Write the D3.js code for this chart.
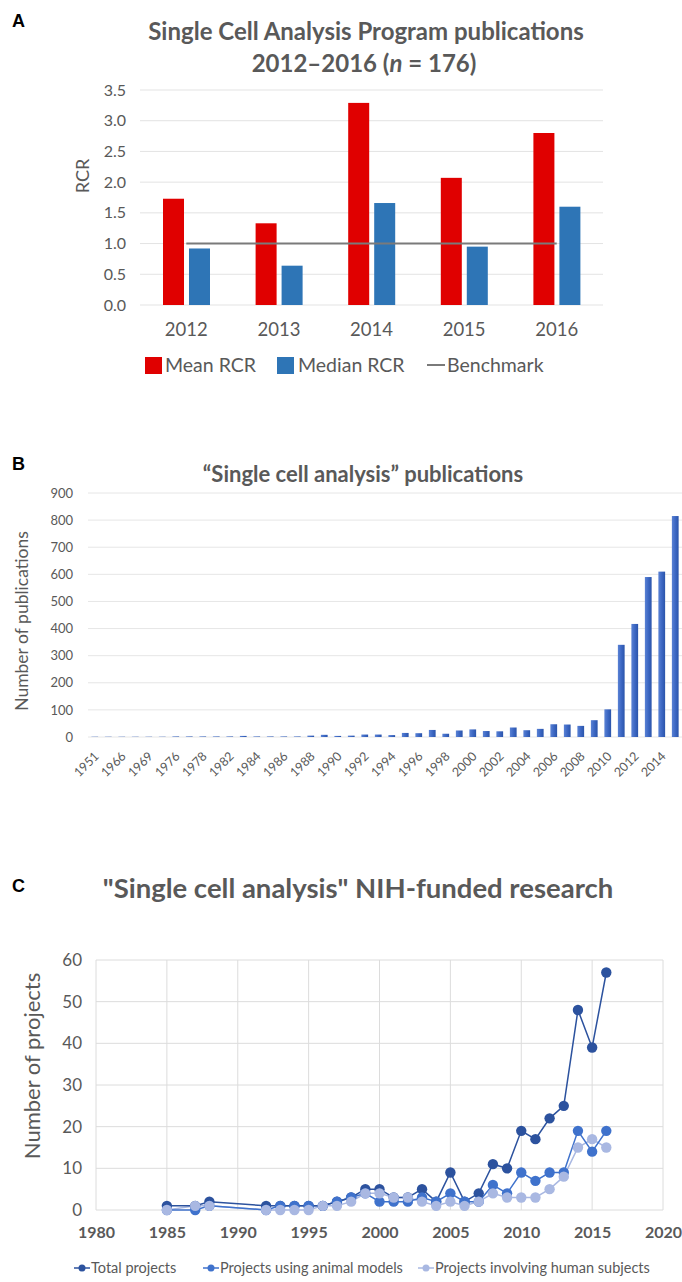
<!DOCTYPE html>
<html><head><meta charset="utf-8">
<script src="https://cdn.jsdelivr.net/npm/d3@7"></script>
<style>
body{margin:0;background:#fff;}
svg{display:block;font-family:Lato,"Open Sans",sans-serif;}
</style></head>
<body>
<svg id="c" width="682" height="1282"></svg>
<script>
// ---------- Panel A data ----------
const rcrYears = ["2012","2013","2014","2015","2016"];
const meanRCR = [1.73,1.33,3.29,2.07,2.80];
const medianRCR = [0.92,0.64,1.66,0.95,1.60];
const benchmark = [1,1,1,1,1];
const rcrTicks = [0,0.5,1,1.5,2,2.5,3,3.5];

// ---------- Panel B data ----------
const pubYears = ["1951","1963","1966","1967","1969","1973","1976","1977","1978","1980","1982","1983",
 "1984","1985","1986","1987","1988","1989","1990","1991","1992","1993","1994","1995","1996","1997",
 "1998","1999","2000","2001","2002","2003","2004","2005","2006","2007","2008","2009","2010","2011",
 "2012","2013","2014","2015"];
const pubCounts = [1,1,1,1,1,1,2,2,2,2,2,4,
 2,2,2,2,5,8,4,5,9,9,7,15,14,26,
 12,24,28,22,21,35,25,30,47,46,41,62,102,340,
 417,590,610,815];
const pubTicks = [0,100,200,300,400,500,600,700,800,900];

// ---------- Panel C data ----------
const nihYears = [1985,1987,1988,1992,1993,1994,1995,1996,1997,1998,1999,2000,2001,2002,2003,2004,2005,2006,2007,2008,2009,2010,2011,2012,2013,2014,2015,2016];
const totalProjects  = [1,1,2,1,1,1,1,1,2,3,5,5,3,3,5,2,9,2,4,11,10,19,17,22,25,48,39,57];
const animalProjects = [0,0,1,0,1,1,1,1,2,3,4,2,2,2,3,2,4,2,2,6,4,9,7,9,9,19,14,19];
const humanProjects  = [0,1,1,0,0,0,0,1,1,2,4,4,3,3,2,1,2,1,2,4,3,3,3,5,8,15,17,15];
const nihXTicks = [1980,1985,1990,1995,2000,2005,2010,2015,2020];
const nihYTicks = [0,10,20,30,40,50,60];

const svg = d3.select("#c");
const gray = "#595959";

// ===================== PANEL A =====================
(function(){
  const g = svg.append("g");
  g.append("text").attr("x",12).attr("y",27).attr("font-size",18).attr("font-weight",700).attr("font-family","Liberation Sans, Arial").text("A");
  g.append("text").attr("x",366).attr("y",40).attr("text-anchor","middle").attr("font-size",24).attr("font-weight",700).attr("fill",gray).text("Single Cell Analysis Program publications");
  const t2 = g.append("text").attr("x",364).attr("y",72).attr("text-anchor","middle").attr("font-size",24).attr("font-weight",700).attr("fill",gray);
  t2.append("tspan").text("2012\u20132016 (");
  t2.append("tspan").attr("font-style","italic").text("n");
  t2.append("tspan").text(" = 176)");

  const x = d3.scaleBand().domain(rcrYears).range([140,603]);
  const x1 = d3.scaleBand().domain(["mean","median"]).range([23,70]).paddingInner(0.192);
  const y = d3.scaleLinear().domain([0,3.5]).range([305,90]);

  g.selectAll(".gA").data(rcrTicks).join("line")
    .attr("x1",140).attr("x2",603).attr("y1",d=>y(d)).attr("y2",d=>y(d))
    .attr("stroke","#e3e3e3").attr("stroke-width",1);
  const ay = g.append("g").attr("transform","translate(140,0)")
    .call(d3.axisLeft(y).tickValues(rcrTicks).tickFormat(d3.format(".1f")).tickSize(0).tickPadding(14));
  ay.select(".domain").remove();
  ay.selectAll("text").attr("font-size",16).attr("fill",gray).attr("font-family","Lato");
  g.append("text").attr("transform","translate(89,176) rotate(-90)").attr("text-anchor","middle")
    .attr("font-size",18).attr("fill",gray).text("RCR");

  g.selectAll(".mean").data(meanRCR).join("rect")
    .attr("x",(d,i)=>x(rcrYears[i])+x1("mean")).attr("width",x1.bandwidth())
    .attr("y",d=>y(d)).attr("height",d=>y(0)-y(d)).attr("fill","#e00000");
  g.selectAll(".median").data(medianRCR).join("rect")
    .attr("x",(d,i)=>x(rcrYears[i])+x1("median")).attr("width",x1.bandwidth())
    .attr("y",d=>y(d)).attr("height",d=>y(0)-y(d)).attr("fill","#2e75b6");
  g.append("path").datum(benchmark)
    .attr("d",d3.line().x((d,i)=>x(rcrYears[i])+x.bandwidth()/2).y(d=>y(d)))
    .attr("stroke","#7a7a7a").attr("stroke-width",2).attr("fill","none");

  const ax = g.append("g").attr("transform","translate(0,305)")
    .call(d3.axisBottom(x).tickSize(0).tickPadding(18));
  ax.select(".domain").remove();
  ax.selectAll("text").attr("font-size",18.5).attr("fill",gray).attr("font-family","Lato");

  // legend
  const lg = g.append("g");
  lg.append("rect").attr("x",145).attr("y",357).attr("width",17).attr("height",17).attr("fill","#e00000");
  lg.append("text").attr("x",165).attr("y",372).attr("font-size",19.5).attr("fill",gray).text("Mean RCR");
  lg.append("rect").attr("x",277).attr("y",357).attr("width",17).attr("height",17).attr("fill","#2e75b6");
  lg.append("text").attr("x",298).attr("y",372).attr("font-size",19.5).attr("fill",gray).text("Median RCR");
  lg.append("line").attr("x1",427).attr("x2",445).attr("y1",365).attr("y2",365).attr("stroke","#7a7a7a").attr("stroke-width",2);
  lg.append("text").attr("x",447).attr("y",372).attr("font-size",19.5).attr("fill",gray).text("Benchmark");
})();

// ===================== PANEL B =====================
(function(){
  const g = svg.append("g");
  g.append("text").attr("x",12).attr("y",470).attr("font-size",18).attr("font-weight",700).attr("font-family","Liberation Sans, Arial").text("B");
  g.append("text").attr("x",363).attr("y",482).attr("text-anchor","middle").attr("font-size",22).attr("font-weight",700).attr("fill",gray).text("\u201cSingle cell analysis\u201d publications");

  const x = d3.scaleBand().domain(pubYears).range([88,682]).paddingInner(0.5).paddingOuter(0.25);
  const y = d3.scaleLinear().domain([0,900]).range([737,493]);

  const defs = svg.append("defs");
  const grad = defs.append("linearGradient").attr("id","bgrad").attr("x1",0).attr("x2",1).attr("y1",0).attr("y2",0);
  grad.append("stop").attr("offset","0%").attr("stop-color","#5a82d4");
  grad.append("stop").attr("offset","50%").attr("stop-color","#3d68c4");
  grad.append("stop").attr("offset","100%").attr("stop-color","#2a54aa");

  g.selectAll(".gB").data(pubTicks).join("line")
    .attr("x1",88).attr("x2",682).attr("y1",d=>y(d)).attr("y2",d=>y(d))
    .attr("stroke","#e6e6e6").attr("stroke-width",1);
  const ay = g.append("g").attr("transform","translate(88,0)")
    .call(d3.axisLeft(y).tickValues(pubTicks).tickSize(0).tickPadding(15));
  ay.select(".domain").remove();
  ay.selectAll("text").attr("font-size",13).attr("fill",gray).attr("font-family","Lato");
  g.append("text").attr("transform","translate(28,621) rotate(-90)").attr("text-anchor","middle")
    .attr("font-size",17.5).attr("fill",gray).text("Number of publications");

  g.selectAll(".barB").data(pubCounts).join("rect")
    .attr("x",(d,i)=>x(pubYears[i])).attr("width",x.bandwidth())
    .attr("y",d=>y(d)).attr("height",d=>y(0)-y(d)).attr("fill","url(#bgrad)");

  const ax = g.append("g").attr("transform","translate(0,737)")
    .call(d3.axisBottom(x).tickValues(pubYears.filter((d,i)=>i%2===0)).tickSize(0).tickPadding(0));
  ax.select(".domain").remove();
  ax.selectAll("text").attr("font-size",12.5).attr("fill",gray).attr("font-family","Lato")
    .attr("text-anchor","end").attr("dy",0)
    .attr("transform","translate(5,20) rotate(-45)");
})();

// ===================== PANEL C =====================
(function(){
  const g = svg.append("g");
  g.append("text").attr("x",12).attr("y",892).attr("font-size",18).attr("font-weight",700).attr("font-family","Liberation Sans, Arial").text("C");
  g.append("text").attr("x",358).attr("y",898).attr("text-anchor","middle").attr("font-size",27.5).attr("font-weight",700).attr("fill",gray).text("\"Single cell analysis\" NIH-funded research");

  const x = d3.scaleLinear().domain([1980,2020]).range([96,663]);
  const y = d3.scaleLinear().domain([0,60]).range([1210,960]);

  g.selectAll(".gCy").data(nihYTicks).join("line")
    .attr("x1",96).attr("x2",663).attr("y1",d=>y(d)).attr("y2",d=>y(d))
    .attr("stroke","#dcdcdc").attr("stroke-width",1);
  g.selectAll(".gCx").data(nihXTicks).join("line")
    .attr("x1",d=>x(d)).attr("x2",d=>x(d)).attr("y1",y(0)).attr("y2",y(60))
    .attr("stroke","#dcdcdc").attr("stroke-width",1);

  const ay = g.append("g").attr("transform","translate(96,0)")
    .call(d3.axisLeft(y).tickValues(nihYTicks).tickSize(0).tickPadding(14));
  ay.select(".domain").remove();
  ay.selectAll("text").attr("font-size",17).attr("fill",gray).attr("font-family","Lato");
  const ax = g.append("g").attr("transform","translate(0,1210)")
    .call(d3.axisBottom(x).tickValues(nihXTicks).tickFormat(d3.format("d")).tickSize(0).tickPadding(17));
  ax.select(".domain").remove();
  ax.selectAll("text").attr("font-size",16).attr("font-weight",700).attr("fill",gray).attr("font-family","Lato");
  g.append("text").attr("transform","translate(40,1066) rotate(-90)").attr("text-anchor","middle")
    .attr("font-size",22).attr("fill",gray).text("Number of projects");

  const series = [
    {vals: humanProjects, color:"#a9b8e2"},
    {vals: animalProjects, color:"#3f72cc"},
    {vals: totalProjects, color:"#2c529e"}
  ];
  const line = d3.line().x((d,i)=>x(nihYears[i])).y(d=>y(d));
  series.forEach(s=>{
    g.append("path").datum(s.vals).attr("d",line).attr("fill","none")
      .attr("stroke",s.color).attr("stroke-width",1.5);
  });
  [series[2],series[1],series[0]].forEach(s=>{
    g.append("g").selectAll("circle").data(s.vals).join("circle")
      .attr("cx",(d,i)=>x(nihYears[i])).attr("cy",d=>y(d)).attr("r",5.2)
      .attr("fill",s.color);
  });

  // legend
  const lg = g.append("g").attr("font-size",14.5).attr("fill",gray);
  const items = [
    {label:"Total projects", color:"#2c529e", x:74},
    {label:"Projects using animal models", color:"#3f72cc", x:203},
    {label:"Projects involving human subjects", color:"#a9b8e2", x:418}
  ];
  items.forEach(it=>{
    lg.append("line").attr("x1",it.x).attr("x2",it.x+16).attr("y1",1268).attr("y2",1268).attr("stroke",it.color).attr("stroke-width",1.5);
    lg.append("circle").attr("cx",it.x+8).attr("cy",1268).attr("r",3.5).attr("fill",it.color);
    lg.append("text").attr("x",it.x+17).attr("y",1273).text(it.label);
  });
})();
</script>
</body></html>
